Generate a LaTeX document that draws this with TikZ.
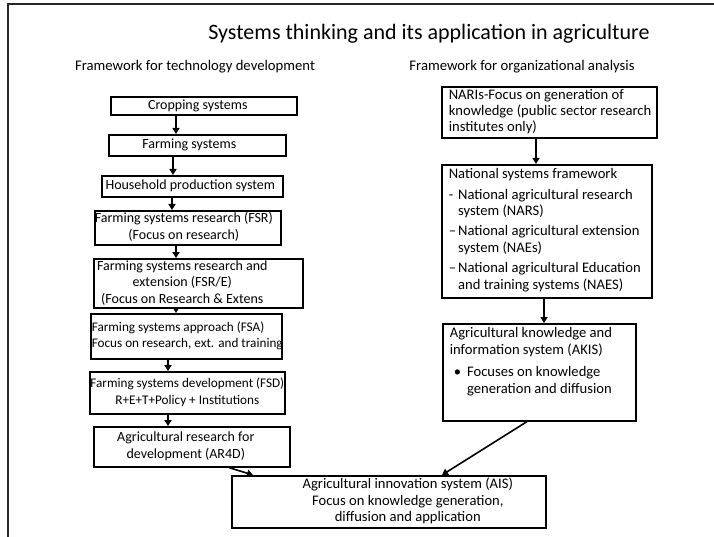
\documentclass[tikz,border=0pt]{standalone}
\usepackage{fontspec}
\setmainfont{Carlito}
\usetikzlibrary{arrows.meta}
% text lines centred in a box of fixed size, moved sideways by #3
\newcommand\boxtext[4]{\parbox[c][#2][c]{#1}{\makebox[#1]{\hspace*{#3}%
  \begin{tabular}{@{}c@{}}#4\end{tabular}\hspace*{-#3}}}}
% text lines set flush left in a box of fixed size, indented by #3
\newcommand\boxleft[4]{\parbox[c][#2][c]{#1}{\makebox[#1][l]{\hspace*{#3}%
  \begin{tabular}{@{}l@{}}#4\end{tabular}}}}
\begin{document}
\begin{tikzpicture}[x=1pt,y=-1pt,
  frame/.style={line width=1.4pt, black!85},
  lbox/.style={draw, line width=1.6pt, inner sep=0pt, anchor=north west,
    font=\fontsize{14}{16.5}\selectfont},
  tight/.style={font=\fontsize{13.2}{16.5}\selectfont},
  rbox/.style={draw, line width=1.6pt, inner sep=0pt, anchor=north west,
    font=\fontsize{14.6}{16.8}\selectfont},
  arr/.style={line width=1.6pt, -{Triangle[length=6pt,width=7pt]}},
  head/.style={font=\fontsize{14.7}{17}\selectfont, anchor=base}]
\useasboundingbox (0,0) rectangle (714,537);
% page frame
\draw[frame] (8,537) -- (8,4) -- (714,4);

% headings
\node[font=\fontsize{22}{26}\selectfont, anchor=base] (title) at (429,40)
  {Systems thinking and its application in agriculture};
\node[head] (lhead) at (195,71) {Framework for technology development};
\node[head] (rhead) at (522,71) {Framework for organizational analysis};

% left column: technology development
\node[lbox] (crop) at (110,96)  {\boxtext{186pt}{18pt}{-6pt}{Cropping systems}};
\node[lbox] (farm) at (108,134) {\boxtext{177pt}{21pt}{-8pt}{Farming systems}};
\node[lbox] (house) at (101,175) {\boxtext{181pt}{21pt}{-2pt}{Household production system}};
\node[lbox] (fsr) at (94,210)  {\boxtext{186pt}{34pt}{-4pt}{Farming systems research (FSR)\\(Focus on research)}};
\node[lbox] (fsre) at (93,258) {\boxtext{209pt}{49pt}{-16pt}{Farming systems research and\\extension (FSR/E)\\(Focus on Research \& Extens}};
\node[lbox, tight] (fsa) at (90,313)  {\boxleft{191pt}{45pt}{1pt}{Farming systems approach (FSA)\\Focus on research, ext. and training}};
\node[lbox, tight] (fsd) at (89,371)  {\boxtext{195pt}{42pt}{0pt}{Farming systems development (FSD)\\R+E+T+Policy + Institutions}};
\node[lbox] (ar4d) at (93,426) {\boxtext{196pt}{40pt}{-6pt}{Agricultural research for\\development (AR4D)}};

% right column: organizational analysis
\node[rbox, font=\fontsize{14.6}{16}\selectfont] (nari) at (441,86) {\boxleft{215pt}{51pt}{7pt}{NARIs-Focus on generation of\\knowledge (public sector research\\institutes only)}};
\node[rbox, inner xsep=7pt, inner ysep=4pt] (nsf) at (441,164) {\parbox[c][125pt][t]{196pt}{\raggedright
  National systems framework\par\vspace{5pt}
  {\renewcommand\arraystretch{1.0}%
  \begin{tabular}{@{}l@{}l@{}}
    -\,\, & National agricultural research\\
          & system (NARS)\\[3pt]
    --    & National agricultural extension\\
          & system (NAEs)\\[3pt]
    --    & National agricultural Education\\
          & and training systems (NAES)
  \end{tabular}}}};
\node[rbox, inner xsep=7pt, inner ysep=4pt] (akis) at (442,323) {\parbox[c][89pt][t]{179pt}{\raggedright
  Agricultural knowledge and\\information system (AKIS)\par\vspace{5pt}
  \hspace*{4pt}\textbullet\hspace{6pt}\parbox[t]{160pt}{Focuses on knowledge\\generation and diffusion}}};

% convergence box
\node[rbox] (ais) at (231,475) {\boxtext{314pt}{52pt}{19pt}{Agricultural innovation system (AIS)\\Focus on knowledge generation,\\diffusion and application}};

% arrows down the left column
\draw[arr] ([xshift=66pt]crop.south west) -- ([xshift=68pt]farm.north west);
\draw[arr] ([xshift=65pt]farm.south west) -- ([xshift=72pt]house.north west);
\draw[arr] ([xshift=71pt]house.south west) -- ([xshift=78pt]fsr.north west);
\draw[arr] ([xshift=82pt]fsr.south west) -- ([xshift=83pt]fsre.north west);
\draw[arr] ([xshift=83pt]fsre.south west) -- ([xshift=86pt]fsa.north west);
\draw[arr] ([xshift=78pt]fsa.south west) -- ([xshift=79pt]fsd.north west);
\draw[arr] ([xshift=79pt]fsd.south west) -- ([xshift=75pt]ar4d.north west);
\draw[arr] ([xshift=136pt]ar4d.south west) -- ([xshift=22pt]ais.north west);

% arrows down the right column
\draw[arr] ([xshift=95pt]nari.south west) -- ([xshift=95pt]nsf.north west);
\draw[arr] ([xshift=103pt]nsf.south west) -- ([xshift=102pt]akis.north west);
\draw[arr] ([xshift=85pt]akis.south west) -- ([xshift=211pt]ais.north west);
\end{tikzpicture}
\end{document}
